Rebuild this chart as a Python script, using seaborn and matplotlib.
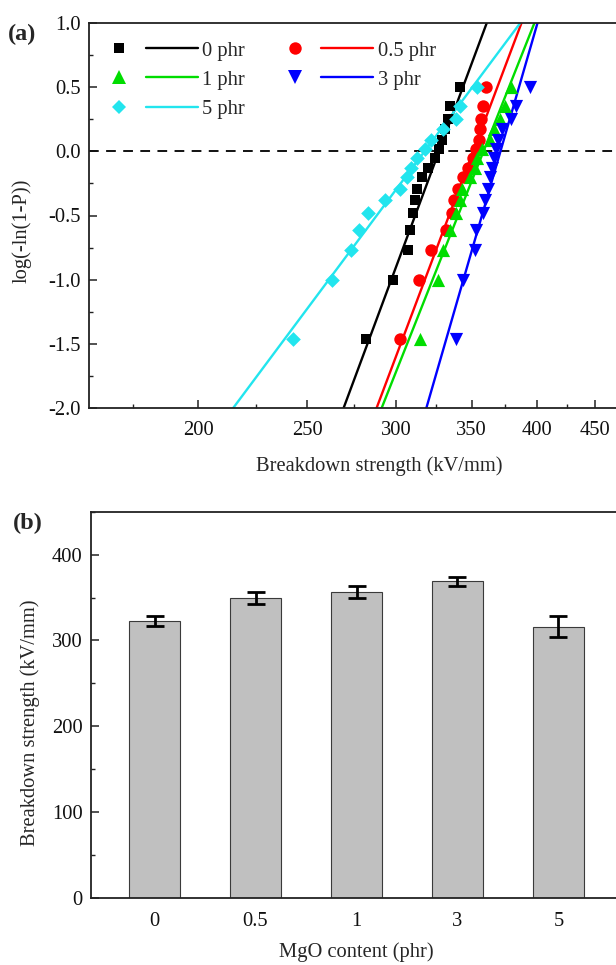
import numpy as np
import pandas as pd
import matplotlib
matplotlib.use("Agg")
import matplotlib.pyplot as plt
import seaborn as sns
from matplotlib.lines import Line2D
from matplotlib.ticker import FixedLocator, FixedFormatter, MultipleLocator, FormatStrFormatter, NullFormatter

# ---------------- data ----------------
series_labels = ["0 phr", "0.5 phr", "1 phr", "3 phr", "5 phr"]
series_colors = ["#000000", "#ff0000", "#00dd00", "#0000ff", "#22e5ee"]
series_markers = ["s", "o", "^", "v", "D"]
series_sizes = [60, 80, 90, 90, 56]

weibull_y = [-1.46, -1.00, -0.77, -0.61, -0.48, -0.38, -0.29, -0.20,
             -0.13, -0.05, 0.02, 0.09, 0.17, 0.25, 0.35, 0.50]
E_0 = [282, 298, 307, 308.5, 310.5, 311.5, 313, 316, 320, 324.5, 327, 329, 331.5, 333.5, 335, 342]
E_05 = [302, 314, 322, 332, 336, 337.5, 340, 344, 347, 351, 353, 355.5, 356, 357, 358.5, 360]
E_1 = [315, 326.5, 330, 335, 339, 342, 343, 349, 352, 354, 357.5, 363, 366, 371, 374.5, 379]
E_3 = [339, 343.5, 352.5, 353, 358.5, 359.5, 362, 363.5, 364.5, 366, 368, 369.5, 372.5, 379, 383.5, 394]
E_5 = [243, 263, 273.5, 278, 283, 293, 302.5, 306.5, 309, 313, 318, 322, 330, 339, 342, 354]
series_E = [E_0, E_05, E_1, E_3, E_5]

# fitted Weibull lines: strength at y = -2 and y = 1
fit_y = [-2.0, 1.0]
fit_E_low = [269.2, 288, 291, 318.9, 214.7]
fit_E_high = [361, 387.6, 398, 400.5, 386.7]

# bar chart
mgo_content = ["0", "0.5", "1", "3", "5"]
bd_strength = [323, 349, 357, 369, 316]
bd_error = [6, 7, 7, 5.5, 12]

# x ticks of panel (a)
xa_major = [200, 250, 300, 350, 400, 450]
xa_minor = [175, 225, 275, 325, 375, 425, 475]

# ---------------- style ----------------
sns.set_theme(style="ticks")
plt.rcParams["font.family"] = ["Liberation Serif", "DejaVu Serif"]
plt.rcParams["axes.unicode_minus"] = False
FS = 14.8

W, H = 616, 965
fig = plt.figure(figsize=(W / 100, H / 100), dpi=100)
fig.patch.set_facecolor("white")

# ---------------- panel (a) ----------------
ax1 = fig.add_axes([89.3 / W, 1 - 408.3 / H, 556.7 / W, 385.6 / H])
ax1.set_xscale("log")

rows = []
for lab, E in zip(series_labels, series_E):
    for e, y in zip(E, weibull_y):
        rows.append({"series": lab, "E": e, "y": y})
df = pd.DataFrame(rows)

fit_rows = []
for lab, lo, hi in zip(series_labels, fit_E_low, fit_E_high):
    fit_rows.append({"series": lab, "E": lo, "y": fit_y[0]})
    fit_rows.append({"series": lab, "E": hi, "y": fit_y[1]})
dfit = pd.DataFrame(fit_rows)

ax1.axhline(0, color="#111111", lw=1.4, ls=(0, (5, 3.8)), zorder=1)

for lab, col in zip(series_labels, series_colors):
    sns.lineplot(data=dfit[dfit.series == lab], x="E", y="y", color=col, lw=1.7,
                 sort=False, ax=ax1, legend=False, zorder=2)
for lab, col, mk, sz in zip(series_labels, series_colors, series_markers, series_sizes):
    sns.scatterplot(data=df[df.series == lab], x="E", y="y", color=col, marker=mk,
                    s=sz, linewidth=0, ax=ax1, legend=False, zorder=3)

ax1.set_xlim(160, 500)
ax1.set_ylim(-2.0, 1.0)
ax1.xaxis.set_major_locator(FixedLocator(xa_major))
ax1.xaxis.set_major_formatter(FixedFormatter([str(v) for v in xa_major]))
ax1.xaxis.set_minor_locator(FixedLocator(xa_minor))
ax1.xaxis.set_minor_formatter(NullFormatter())
ax1.yaxis.set_major_locator(MultipleLocator(0.5))
ax1.yaxis.set_minor_locator(MultipleLocator(0.25))
ax1.yaxis.set_major_formatter(FormatStrFormatter("%.1f"))
ax1.set_xlabel("Breakdown strength (kV/mm)", fontsize=FS)
ax1.set_ylabel("log(-ln(1-P))", fontsize=FS)
ax1.yaxis.set_label_coords(-0.103, 0.46)
ax1.xaxis.set_label_coords(0.52, -0.125)


class MarkerLineHandler:
    def legend_artist(self, legend, orig_handle, fontsize, handlebox):
        x0, y0 = handlebox.xdescent, handlebox.ydescent
        w, h = handlebox.width, handlebox.height
        yc = y0 + h / 2
        mk = Line2D([x0 + 0.13 * w], [yc], marker=orig_handle.get_marker(),
                    markersize=orig_handle.get_markersize(), color=orig_handle.get_color(),
                    linestyle="none", markeredgewidth=0)
        ln = Line2D([x0 + 0.42 * w, x0 + w], [yc, yc], color=orig_handle.get_color(),
                    lw=orig_handle.get_linewidth())
        for a in (mk, ln):
            a.set_transform(handlebox.get_transform())
            handlebox.add_artist(a)
        return ln


handles = []
for lab, col, mk, sz in zip(series_labels, series_colors, series_markers, series_sizes):
    handles.append(Line2D([0], [0], color=col, marker=mk, markersize=np.sqrt(sz), lw=1.7, label=lab))
order = [0, 2, 4, 1, 3]
leg = ax1.legend([handles[i] for i in order], [series_labels[i] for i in order],
                 handler_map={Line2D: MarkerLineHandler()}, ncol=2, frameon=False,
                 loc="upper left", bbox_to_anchor=(0.033, 0.952), borderpad=0, borderaxespad=0,
                 handlelength=4.4, handletextpad=0.2, columnspacing=1.85, labelspacing=0.47,
                 fontsize=FS)

# ---------------- panel (b) ----------------
ax2 = fig.add_axes([91 / W, 1 - 898 / H, 531 / W, 386.3 / H])
dbar = pd.DataFrame({"MgO": mgo_content, "BD": bd_strength})
sns.barplot(data=dbar, x="MgO", y="BD", order=mgo_content, color="#c0c0c0", saturation=1,
            width=0.5, errorbar=None, edgecolor="#3a3a3a", linewidth=0.8, ax=ax2)
ax2.errorbar(x=np.arange(len(mgo_content)), y=bd_strength, yerr=bd_error, fmt="none",
             ecolor="black", elinewidth=2, capsize=6.5, capthick=2, zorder=4)
ax2.set_xlim(-0.63, 4.63)
ax2.set_ylim(0, 450)
ax2.yaxis.set_major_locator(MultipleLocator(100))
ax2.yaxis.set_minor_locator(MultipleLocator(50))
ax2.set_xlabel("MgO content (phr)", fontsize=FS)
ax2.set_ylabel("Breakdown strength (kV/mm)", fontsize=FS)
ax2.yaxis.set_label_coords(-0.096, 0.453)
ax2.xaxis.set_label_coords(0.5, -0.114)

for ax in (ax1, ax2):
    for sp in ax.spines.values():
        sp.set_linewidth(1.3)
        sp.set_color("#222222")
    ax.tick_params(which="major", direction="in", length=5.5, width=1.1, labelsize=FS,
                   colors="#222222", pad=6)
    ax.tick_params(which="minor", direction="in", length=3, width=1.0, colors="#222222")
    for t in ax.get_xticklabels() + ax.get_yticklabels():
        t.set_color("#111111")
ax1.tick_params(axis="x", which="major", pad=9)
ax2.tick_params(axis="x", which="both", length=0, pad=10)

fig.text(8 / W, 1 - 34 / H, "(a)", fontsize=17.5, fontweight="bold", ha="left", va="center")
fig.text(13 / W, 1 - 523 / H, "(b)", fontsize=17.5, fontweight="bold", ha="left", va="center")

fig.savefig("out.png", dpi=100, facecolor="white")
